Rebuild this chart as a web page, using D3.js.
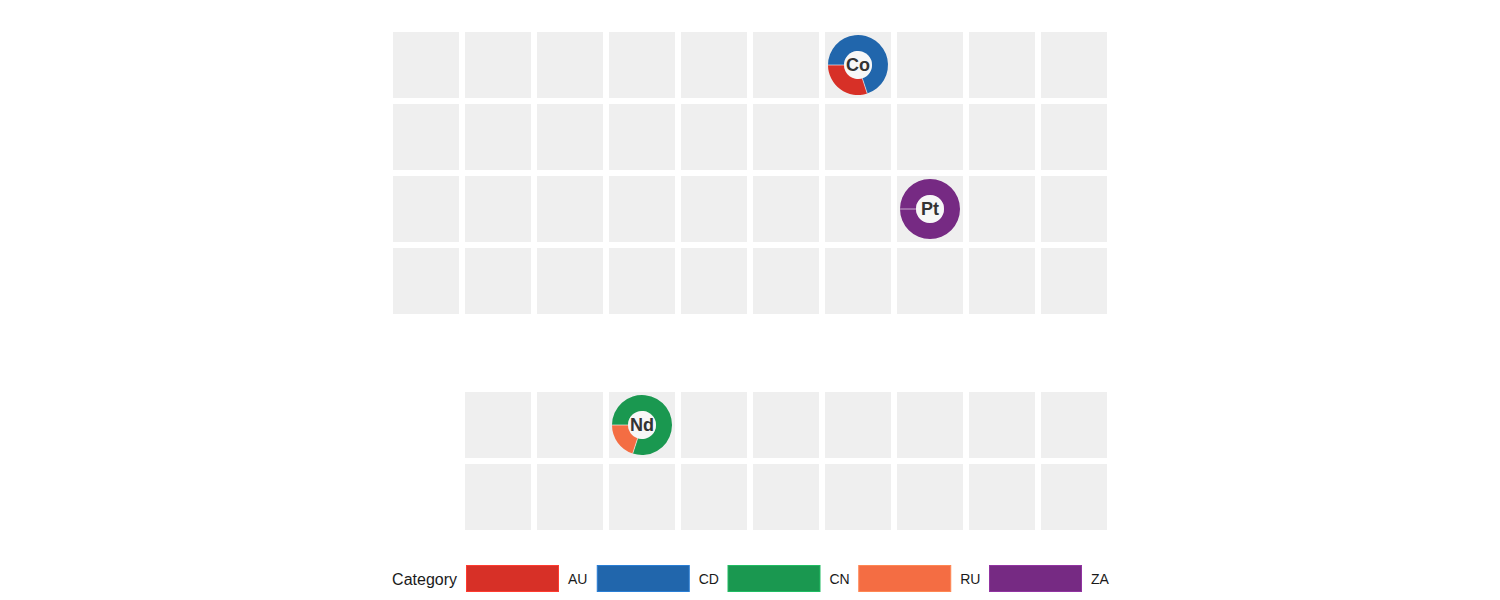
<!DOCTYPE html>
<html>
<head>
<meta charset="utf-8">
<script src="https://cdn.jsdelivr.net/npm/d3@7"></script>
<style>
  html, body { margin: 0; padding: 0; background: #ffffff; }
  svg { display: block; font-family: "Liberation Sans", Arial, Helvetica, sans-serif; }
</style>
</head>
<body>
<svg id="chart" width="1500" height="600"></svg>
<script>
// ---- data ----
const categories = ["AU", "CD", "CN", "RU", "ZA"];
const categoryColors = ["#d73027", "#2166ac", "#1a9850", "#f46d43", "#762a83"];

// grid of element cells (main block rows 0-3, cols 0-9; lower block rows 5-6, cols 1-9)
const mainRows = [0, 1, 2, 3];
const mainCols = [0, 1, 2, 3, 4, 5, 6, 7, 8, 9];
const lowerRows = [5, 6];
const lowerCols = [1, 2, 3, 4, 5, 6, 7, 8, 9];

// elements with production shares by country (same order as categories)
const elements = ["Co", "Pt", "Nd"];
const elementCols = [6, 7, 3];
const elementRows = [0, 2, 5];
const coShares = [30, 70, 0, 0, 0];
const ptShares = [0, 0, 0, 0, 100];
const ndShares = [0, 0, 80, 20, 0];
const elementShares = [coShares, ptShares, ndShares];

// ---- chart ----
const svg = d3.select("#chart");

const x = d3.scaleBand().domain(d3.range(10)).range([390, 1110])
  .paddingInner(1 / 12).paddingOuter(1 / 24);
const y = d3.scaleBand().domain(d3.range(7)).range([29, 533])
  .paddingInner(1 / 12).paddingOuter(1 / 24);
const color = d3.scaleOrdinal().domain(categories).range(categoryColors);

const cells = [];
mainRows.forEach(r => mainCols.forEach(c => cells.push({ r, c })));
lowerRows.forEach(r => lowerCols.forEach(c => cells.push({ r, c })));

svg.append("g").selectAll("rect").data(cells).join("rect")
  .attr("x", d => x(d.c)).attr("y", d => y(d.r))
  .attr("width", x.bandwidth()).attr("height", y.bandwidth())
  .attr("fill", "#efefef");

const outerR = 30, innerR = 14;
const pie = d3.pie().value(d => d.value)
  .sort((a, b) => b.value - a.value)
  .startAngle(-Math.PI / 2).endAngle(3 * Math.PI / 2);
const arc = d3.arc().innerRadius(innerR).outerRadius(outerR);

elements.forEach((el, i) => {
  const cx = x(elementCols[i]) + x.bandwidth() / 2;
  const cy = y(elementRows[i]) + y.bandwidth() / 2;
  const g = svg.append("g").attr("transform", `translate(${cx},${cy})`);
  const data = categories.map((cat, k) => ({ cat, value: elementShares[i][k] }))
    .filter(d => d.value > 0);
  const arcs = pie(data);
  g.selectAll("path.slice").data(arcs).join("path")
    .attr("class", "slice")
    .attr("d", arc)
    .attr("fill", d => color(d.data.cat));
  // separators at each slice start
  g.selectAll("line.sep").data(arcs).join("line")
    .attr("class", "sep")
    .attr("x1", d => innerR * Math.sin(d.startAngle))
    .attr("y1", d => -innerR * Math.cos(d.startAngle))
    .attr("x2", d => outerR * Math.sin(d.startAngle))
    .attr("y2", d => -outerR * Math.cos(d.startAngle))
    .attr("stroke", "#ffffff").attr("stroke-opacity", 0.6).attr("stroke-width", 1);
  g.append("circle").attr("r", innerR).attr("fill", "#ffffff").attr("fill-opacity", 0.5);
  g.append("text")
    .attr("text-anchor", "middle")
    .attr("dy", "0.35em")
    .attr("font-size", 18)
    .attr("font-weight", "bold")
    .attr("fill", "#333333")
    .text(el);
});

// ---- legend ----
const lx = d3.scaleBand().domain(categories).range([466, 466 + 5 * 130.75]);
const legend = svg.append("g");
legend.append("text")
  .attr("x", 457).attr("y", 579).attr("dy", "0.35em")
  .attr("text-anchor", "end")
  .attr("font-size", 16).attr("fill", "#1a1a1a")
  .text("Category");
const items = legend.selectAll("g.item").data(categories).join("g").attr("class", "item");
items.append("rect")
  .attr("x", d => lx(d) + 0.5).attr("y", 565.5)
  .attr("width", 92).attr("height", 26)
  .attr("fill", d => color(d))
  .attr("stroke", d => d3.color(color(d)).brighter(0.6))
  .attr("stroke-width", 1);
items.append("text")
  .attr("x", d => lx(d) + 102).attr("y", 579).attr("dy", "0.35em")
  .attr("font-size", 14).attr("fill", "#1a1a1a")
  .text(d => d);
</script>
</body>
</html>
